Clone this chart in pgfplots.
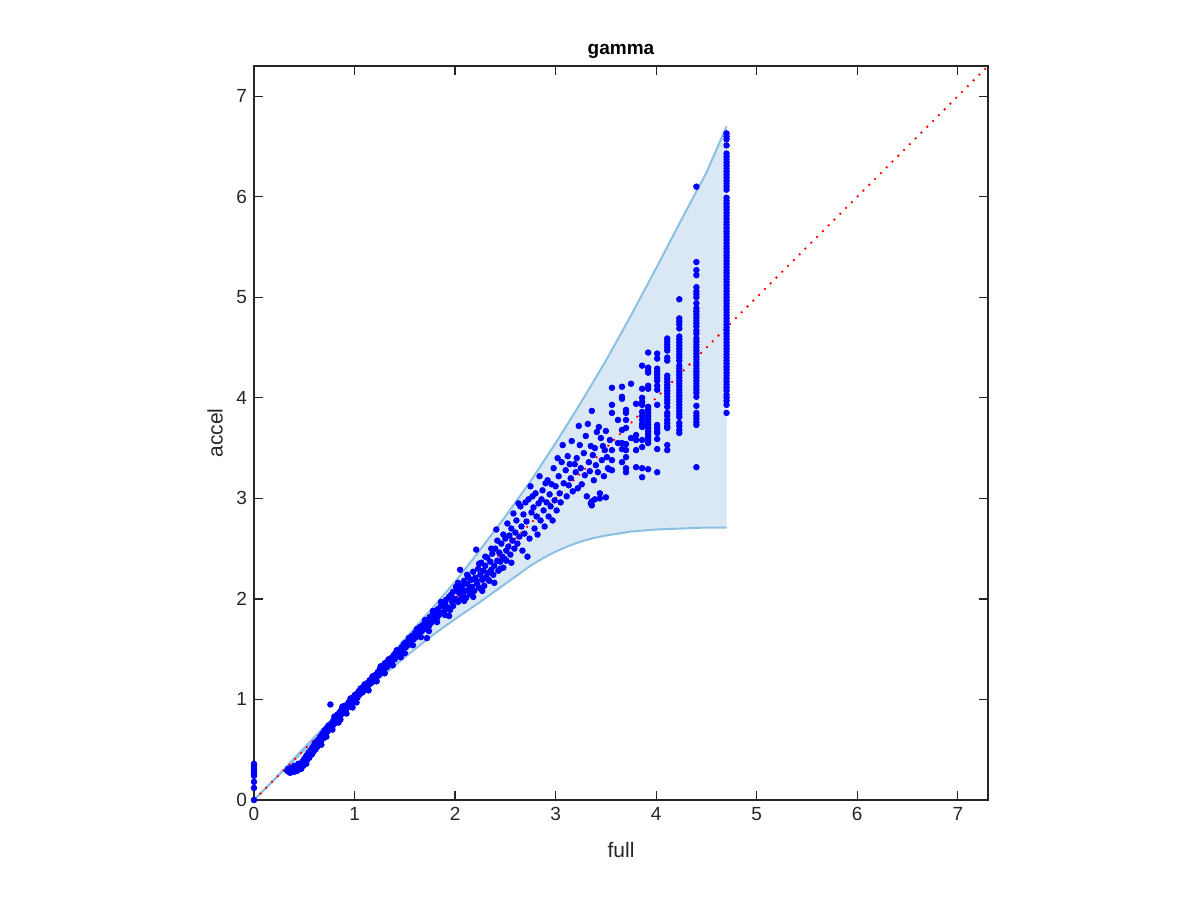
\documentclass[border=0pt]{standalone}
\usepackage{fontspec}
\setmainfont{Liberation Sans}
\usepackage{pgfplots}
\pgfplotsset{compat=1.18}
\definecolor{axgray}{gray}{0.15}
\definecolor{bandfill}{RGB}{217,232,244}
\definecolor{bandline}{RGB}{140,192,226}
\begin{document}
\begin{tikzpicture}
\path[use as bounding box] (-127pt,-50pt) rectangle (473pt,400pt);
\begin{axis}[
  at={(0,0)}, anchor=south west,
  scale only axis, width=367pt, height=367pt,
  xmin=0, xmax=7.3, ymin=0, ymax=7.3,
  xtick={0,1,2,3,4,5,6,7}, ytick={0,1,2,3,4,5,6,7},
  tick align=inside,
  major tick length=4.5pt,
  axis line style={axgray, line width=0.6pt},
  every tick/.style={axgray, line width=0.6pt},
  ticklabel style={text=axgray, font=\fontsize{9.5}{11}\selectfont},
  /pgf/number format/assume math mode=true,
  title={gamma},
  title style={font=\fontsize{9.5}{11}\selectfont\bfseries, at={(axis description cs:0.5,1.004)}, anchor=center, yshift=0pt},
  xlabel={full}, ylabel={accel},
  xlabel style={font=\fontsize{10.5}{12}\selectfont, text=axgray, at={(axis description cs:0.5,-0.068)}, anchor=center},
  ylabel style={font=\fontsize{10.5}{12}\selectfont, text=axgray, at={(axis description cs:-0.053,0.5)}, anchor=center},
  axis on top,
  clip=true,
]
% band fill
\addplot[fill=bandfill, draw=none] coordinates {
(0,0) (0.25,0.255) (0.5,0.52) (0.75,0.78) (1.0,1.04) (1.25,1.31) (1.5,1.60) (1.75,1.88) (2.0,2.17) (2.25,2.49) (2.5,2.82) (2.75,3.17) (3.0,3.55) (3.25,3.95) (3.5,4.37) (3.75,4.82) (4.0,5.29) (4.25,5.77) (4.5,6.24) (4.7,6.70)
(4.7,2.71) (4.5,2.71) (4.25,2.70) (4.0,2.69) (3.75,2.67) (3.5,2.63) (3.375,2.605) (3.25,2.57) (3.125,2.525) (3.0,2.47) (2.875,2.405) (2.75,2.33) (2.5,2.15) (2.25,1.97) (2.0,1.80) (1.75,1.62) (1.5,1.42) (1.25,1.21) (1.0,0.98) (0.75,0.74) (0.5,0.495) (0.25,0.25) (0,0)
} --cycle;
% upper bound
\addplot[bandline, line width=1pt] coordinates {
(0,0) (0.25,0.255) (0.5,0.52) (0.75,0.78) (1.0,1.04) (1.25,1.31) (1.5,1.60) (1.75,1.88) (2.0,2.17) (2.25,2.49) (2.5,2.82) (2.75,3.17) (3.0,3.55) (3.25,3.95) (3.5,4.37) (3.75,4.82) (4.0,5.29) (4.25,5.77) (4.5,6.24) (4.7,6.70)
};
% lower bound
\addplot[bandline, line width=1pt] coordinates {
(0,0) (0.25,0.25) (0.5,0.495) (0.75,0.74) (1.0,0.98) (1.25,1.21) (1.5,1.42) (1.75,1.62) (2.0,1.80) (2.25,1.97) (2.5,2.15) (2.75,2.33) (2.875,2.405) (3.0,2.47) (3.125,2.525) (3.25,2.57) (3.375,2.605) (3.5,2.63) (3.75,2.67) (4.0,2.69) (4.25,2.70) (4.5,2.71) (4.7,2.71)
};
% scatter
\addplot[only marks, mark=*, mark size=1.4pt, blue, mark options={fill=blue, draw=blue}] coordinates {
(0,0.36) (0,0.345) (0,0.33) (0,0.315) (0,0.30) (0,0.285) (0,0.27) (0,0.255) (0,0.24) (0,0.18) (0,0.12) (0,0)
(0.33,0.29) (0.34,0.31) (0.35,0.28) (0.36,0.30) (0.37,0.32) (0.38,0.29) (0.39,0.31) (0.40,0.34) (0.41,0.30) (0.42,0.33) (0.43,0.29) (0.44,0.36) (0.45,0.32) (0.46,0.35) (0.47,0.31) (0.48,0.38) (0.49,0.34) (0.50,0.41) (0.51,0.37) (0.52,0.44) (0.53,0.40) (0.54,0.47) (0.55,0.42) (0.56,0.49) (0.57,0.45) (0.58,0.52) (0.59,0.48) (0.60,0.55) (0.61,0.50) (0.62,0.58) (0.63,0.53) (0.64,0.60) (0.65,0.56) (0.66,0.63) (0.67,0.59) (0.68,0.66) (0.69,0.62) (0.70,0.69) (0.71,0.65) (0.72,0.71) (0.73,0.68) (0.74,0.74) (0.75,0.70) (0.76,0.95) (0.77,0.76) (0.78,0.73) (0.79,0.79) (0.80,0.76) (0.81,0.82) (0.82,0.79) (0.83,0.85) (0.84,0.81) (0.85,0.87) (0.86,0.84) (0.87,0.90) (0.88,0.86) (0.89,0.92) (0.90,0.89) (0.91,0.94) (0.92,0.91) (0.94,0.97) (0.95,0.93) (0.96,0.99) (0.97,0.96) (0.99,1.02) (1.00,0.99) (1.01,1.05) (1.03,1.02) (1.04,1.08) (1.05,1.05) (1.07,1.10) (1.08,1.07) (1.09,1.13) (1.11,1.10) (1.12,1.16) (1.13,1.13) (1.15,1.19) (1.16,1.16) (1.17,1.21) (1.19,1.18) (1.20,1.24) (1.21,1.21) (1.23,1.27) (1.24,1.24) (1.25,1.30) (1.27,1.27) (1.28,1.32) (1.29,1.29) (1.31,1.35) (1.32,1.32) (1.33,1.38) (1.35,1.35) (1.36,1.41) (1.37,1.37) (1.39,1.44) (1.40,1.40) (1.41,1.46) (1.43,1.43) (1.44,1.49) (1.45,1.46) (1.47,1.52) (1.48,1.48) (1.49,1.55) (1.51,1.52) (1.52,1.57) (1.53,1.54) (1.55,1.60) (1.56,1.57) (1.57,1.63) (1.59,1.60) (1.60,1.66) (1.61,1.62) (1.63,1.69) (1.64,1.65) (1.65,1.72) (1.67,1.68) (1.68,1.74) (1.69,1.70) (1.71,1.77) (1.72,1.61) (1.73,1.79) (1.74,1.73) (1.75,1.82) (1.76,1.76) (1.78,1.85) (1.79,1.79) (1.80,1.88) (1.82,1.81) (1.83,1.90) (1.84,1.84) (1.86,1.93) (1.87,1.86) (1.88,1.96) (1.90,1.89) (1.91,1.99) (1.92,1.92) (1.94,1.83) (1.95,1.89) (1.96,2.04) (1.97,1.97) (1.98,2.07) (2.00,2.00) (2.01,2.12)
(0.36,0.27) (0.40,0.28) (0.44,0.30) (0.55,0.45) (0.62,0.52) (0.70,0.62) (0.78,0.70) (0.86,0.80) (1.0,1.04) (1.1,1.15) (1.2,1.20) (1.3,1.36) (1.4,1.45) (1.5,1.56) (1.6,1.64) (1.7,1.75) (1.8,1.83) (1.9,1.95)
(0.52,0.36) (0.58,0.46) (0.63,0.57) (0.67,0.55) (0.72,0.63) (0.76,0.72) (0.80,0.83) (0.84,0.77) (0.88,0.93) (0.92,0.86) (0.96,1.01) (0.98,0.92)
(1.02,0.97) (1.06,1.11) (1.14,1.09) (1.18,1.23) (1.22,1.18) (1.26,1.33) (1.30,1.26) (1.34,1.40) (1.38,1.34) (1.42,1.49) (1.46,1.42) (1.50,1.46) (1.54,1.61) (1.58,1.54) (1.62,1.70) (1.66,1.62) (1.70,1.79) (1.74,1.68) (1.78,1.88) (1.82,1.77) (1.86,1.97) (1.90,1.84) (1.94,2.02) (1.98,1.93)
(2.02,2.10) (2.03,1.97) (2.04,2.06) (2.05,2.29) (2.06,2.00) (2.07,2.13) (2.08,2.04) (2.09,2.18) (2.10,2.08) (2.11,2.01) (2.12,2.15) (2.13,2.22) (2.14,2.10) (2.15,2.05) (2.16,2.19) (2.17,2.12) (2.18,2.27) (2.19,2.08) (2.20,2.21) (2.21,2.49) (2.22,2.15) (2.23,2.30) (2.24,2.11) (2.25,2.24) (2.26,2.36) (2.27,2.19) (2.28,2.28) (2.29,2.13) (2.30,2.33) (2.31,2.22) (2.32,2.41) (2.33,2.26) (2.34,2.18) (2.35,2.37) (2.36,2.29) (2.37,2.45) (2.38,2.24) (2.39,2.33) (2.40,2.50) (2.41,2.69) (2.42,2.38) (2.43,2.28) (2.44,2.46) (2.45,2.37) (2.46,2.55) (2.47,2.42) (2.48,2.31) (2.49,2.40) (2.50,2.60) (2.51,2.48) (2.52,2.75) (2.53,2.52)
(2.03,2.16) (2.06,2.08) (2.09,1.98) (2.12,2.24) (2.15,2.12) (2.18,2.02) (2.21,2.18) (2.24,2.35) (2.27,2.08) (2.30,2.42) (2.33,2.19) (2.36,2.50) (2.39,2.16) (2.42,2.58) (2.45,2.30) (2.48,2.64) (2.51,2.38) (2.56,2.36)
(2.54,2.63) (2.55,2.44) (2.56,2.70) (2.57,2.58) (2.58,2.85) (2.59,2.50) (2.60,2.66) (2.61,2.78) (2.62,2.55) (2.63,2.95) (2.64,2.62) (2.65,2.92) (2.66,2.72) (2.67,2.48) (2.68,2.84) (2.69,2.65) (2.70,2.96) (2.71,2.77) (2.72,2.42) (2.73,2.99) (2.74,2.60) (2.75,3.12) (2.76,2.86) (2.77,3.02) (2.78,2.91) (2.79,2.70) (2.80,3.05) (2.81,2.82) (2.82,2.64) (2.83,2.95) (2.84,3.22) (2.85,2.78) (2.86,2.99) (2.87,3.08) (2.88,2.88) (2.89,2.72) (2.90,3.15) (2.91,2.96) (2.92,3.18) (2.93,2.82) (2.94,3.04) (2.95,2.92) (2.96,3.14) (2.97,2.78) (2.98,3.30) (2.99,2.98) (3.00,3.12) (3.01,2.88) (3.02,3.40)
(3.03,3.22) (3.04,3.05) (3.05,2.96) (3.06,3.36) (3.07,3.53) (3.08,3.15) (3.10,3.28) (3.11,3.02) (3.12,3.42) (3.13,3.13) (3.14,3.34) (3.15,3.20) (3.16,3.57) (3.17,3.07) (3.19,3.34) (3.20,3.26) (3.21,3.40) (3.22,3.10) (3.23,3.72) (3.24,3.53) (3.25,3.30) (3.26,3.14) (3.28,3.45) (3.29,3.23) (3.30,3.62) (3.31,3.02) (3.32,3.74) (3.33,3.36) (3.34,3.27) (3.35,3.52) (3.36,3.87) (3.37,3.43) (3.38,3.18) (3.39,3.50) (3.40,3.33) (3.41,3.66) (3.42,3.26) (3.43,3.71) (3.44,3.05) (3.45,3.60) (3.46,3.38) (3.47,3.52) (3.48,3.22) (3.49,3.48) (3.50,3.67) (3.51,3.41) (3.52,3.30) (3.53,3.29) (3.54,3.58)
(3.35,2.95) (3.39,2.99) (3.44,3.00) (3.50,3.01) (3.36,2.97) (3.36,2.93)
(3.56,4.10) (3.56,3.93) (3.56,3.85) (3.56,3.48) (3.56,3.38) (3.56,3.28)
(3.62,3.78) (3.62,3.55)
(3.66,4.11) (3.66,4.01) (3.66,3.99) (3.66,3.68) (3.66,3.55) (3.66,3.49) (3.66,3.36)
(3.70,3.88) (3.70,3.85) (3.70,3.78) (3.70,3.70) (3.70,3.54) (3.70,3.48) (3.70,3.41) (3.70,3.30) (3.70,3.26)
(3.75,4.14) (3.75,3.60)
(3.80,3.94) (3.80,3.63) (3.80,3.58) (3.80,3.48) (3.80,3.31)
(3.86,4.32) (3.86,4.09) (3.86,4.00) (3.86,3.96) (3.86,3.93) (3.86,3.86) (3.86,3.82) (3.86,3.78) (3.86,3.74) (3.86,3.71) (3.86,3.58) (3.86,3.51) (3.86,3.30) (3.86,3.21)
(3.92,4.45) (3.92,4.30) (3.92,4.27) (3.92,4.25) (3.92,4.12) (3.92,4.09) (3.92,3.91) (3.92,3.88) (3.92,3.85) (3.92,3.82) (3.92,3.79) (3.92,3.76) (3.92,3.73) (3.92,3.70) (3.92,3.67) (3.92,3.64) (3.92,3.61) (3.92,3.58) (3.92,3.55) (3.92,3.29)
(4.01,4.44) (4.01,4.39) (4.01,4.29) (4.01,4.26) (4.01,4.23) (4.01,4.20) (4.01,4.17) (4.01,4.12) (4.01,4.08) (4.01,3.93) (4.01,3.73) (4.01,3.70) (4.01,3.67) (4.01,3.65) (4.01,3.59) (4.01,3.49) (4.01,3.26)
(4.11,4.59) (4.11,4.56) (4.11,4.53) (4.11,4.50) (4.11,4.47) (4.11,4.40) (4.11,4.37) (4.11,4.22) (4.11,4.19) (4.11,4.16) (4.11,4.13) (4.11,4.10) (4.11,4.07) (4.11,4.04) (4.11,4.01) (4.11,3.98) (4.11,3.95) (4.11,3.91) (4.11,3.85) (4.11,3.82) (4.11,3.78) (4.11,3.75) (4.11,3.72) (4.11,3.70) (4.11,3.53) (4.11,3.48)
(4.23,4.98) (4.23,4.79) (4.23,4.76) (4.23,4.73) (4.23,4.69) (4.23,4.61) (4.23,4.58) (4.23,4.55) (4.23,4.52) (4.23,4.49) (4.23,4.46) (4.23,4.43) (4.23,4.40) (4.23,4.37) (4.23,4.32) (4.23,4.29) (4.23,4.26) (4.23,4.23) (4.23,4.20) (4.23,4.17) (4.23,4.14) (4.23,4.11) (4.23,4.08) (4.23,4.05) (4.23,4.02) (4.23,3.99) (4.23,3.96) (4.23,3.93) (4.23,3.90) (4.23,3.87) (4.23,3.84) (4.23,3.81) (4.23,3.75) (4.23,3.72) (4.23,3.68) (4.23,3.65)
(4.40,6.10) (4.40,5.35) (4.40,5.27) (4.40,5.22) (4.40,5.10) (4.40,5.06) (4.40,5.03) (4.40,5.00) (4.40,4.94) (4.40,4.89) (4.40,4.86) (4.40,4.83) (4.40,4.80) (4.40,4.77) (4.40,4.74) (4.40,4.71) (4.40,4.67) (4.40,4.64) (4.40,4.59) (4.40,4.56) (4.40,4.53) (4.40,4.50) (4.40,4.47) (4.40,4.44) (4.40,4.41) (4.40,4.38) (4.40,4.35) (4.40,4.32) (4.40,4.29) (4.40,4.26) (4.40,4.23) (4.40,4.20) (4.40,4.17) (4.40,4.14) (4.40,4.11) (4.40,4.08) (4.40,4.05) (4.40,4.01) (4.40,3.92) (4.40,3.85) (4.40,3.82) (4.40,3.79) (4.40,3.76) (4.40,3.73) (4.40,3.31)
(4.70,6.63) (4.70,6.60) (4.70,6.57) (4.70,6.51) (4.70,6.43) (4.70,6.40) (4.70,6.37) (4.70,6.34) (4.70,6.31) (4.70,6.28) (4.70,6.25) (4.70,6.22) (4.70,6.19) (4.70,6.16) (4.70,6.13) (4.70,6.10) (4.70,6.07)
(4.70,5.99) (4.70,5.96) (4.70,5.93) (4.70,5.90) (4.70,5.87) (4.70,5.84) (4.70,5.81) (4.70,5.78) (4.70,5.75) (4.70,5.72) (4.70,5.69) (4.70,5.66) (4.70,5.63) (4.70,5.60) (4.70,5.57) (4.70,5.54) (4.70,5.51) (4.70,5.48) (4.70,5.45) (4.70,5.42) (4.70,5.39) (4.70,5.36) (4.70,5.33) (4.70,5.30) (4.70,5.27) (4.70,5.24) (4.70,5.21) (4.70,5.18) (4.70,5.15) (4.70,5.12) (4.70,5.09) (4.70,5.06) (4.70,5.03) (4.70,5.00) (4.70,4.97) (4.70,4.94) (4.70,4.91) (4.70,4.88) (4.70,4.85) (4.70,4.82) (4.70,4.79) (4.70,4.76) (4.70,4.73) (4.70,4.70) (4.70,4.67) (4.70,4.64) (4.70,4.61) (4.70,4.58) (4.70,4.55) (4.70,4.52) (4.70,4.49) (4.70,4.46) (4.70,4.43) (4.70,4.40) (4.70,4.37) (4.70,4.34) (4.70,4.31) (4.70,4.28) (4.70,4.25) (4.70,4.22) (4.70,4.19) (4.70,4.16) (4.70,4.13) (4.70,4.10) (4.70,4.07)
(4.70,4.03) (4.70,4.00) (4.70,3.97) (4.70,3.93) (4.70,3.85)
};
% diagonal
\addplot[red, line width=0.9pt, dash pattern=on 0.9pt off 3.2pt] coordinates {(0,0) (7.3,7.3)};
\end{axis}
\end{tikzpicture}
\end{document}
